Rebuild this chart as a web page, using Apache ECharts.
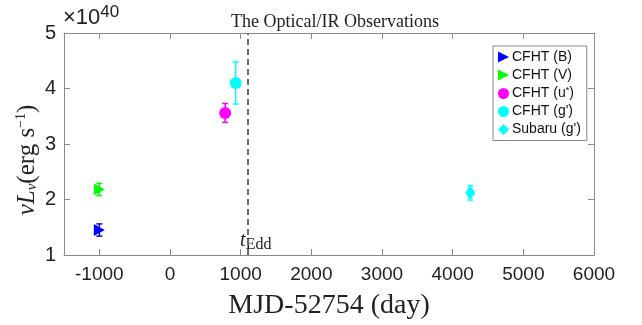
<!DOCTYPE html>
<html>
<head>
<meta charset="utf-8">
<script src="https://cdn.jsdelivr.net/npm/echarts@6/dist/echarts.min.js"></script>
<style>
  html, body { margin: 0; padding: 0; background: #fff; }
  #chart { width: 642px; height: 325px; }
</style>
</head>
<body>
<div id="chart"></div>
<script>
// values in units of 1e40 erg/s, x in MJD-52754
const seriesNames = ["CFHT (B)", "CFHT (V)", "CFHT (u*)", "CFHT (g')", "Subaru (g')"];
const seriesColors = ["#0000ff", "#00ff00", "#ff00ff", "#00ffff", "#00ffff"];
const xDays = [-1000, -1000, 780, 930, 4250];
const yLum = [1.45, 2.18, 3.56, 4.10, 2.12];
const yErr = [0.11, 0.11, 0.17, 0.38, 0.13];
const tEdd = 1105;
const xTicks = [-1000, 0, 1000, 2000, 3000, 4000, 5000, 6000];
const yTicks = [1, 2, 3, 4, 5];

const triRight = "path://M0,0 L10,5 L0,10 Z";
const symbols = [triRight, triRight, "circle", "circle", "diamond"];
const symbolSizes = [[11, 12], [11, 12], 12, 12, [10, 15]];

const chart = echarts.init(document.getElementById("chart"), null, { renderer: "canvas" });

const axisGray = "#8a8a8a";
const sans = "Liberation Sans, Arial, sans-serif";
const serif = "Liberation Serif, DejaVu Serif, serif";

const scatterSeries = seriesNames.map((name, i) => ({
  name,
  type: "scatter",
  data: [[xDays[i], yLum[i]]],
  symbol: symbols[i],
  symbolSize: symbolSizes[i],
  itemStyle: { color: seriesColors[i], opacity: 1 },
  z: 5,
}));

const errorSeries = seriesNames.map((name, i) => ({
  type: "custom",
  data: [[xDays[i], yLum[i] - yErr[i], yLum[i] + yErr[i]]],
  renderItem(params, api) {
    const lo = api.coord([api.value(0), api.value(1)]);
    const hi = api.coord([api.value(0), api.value(2)]);
    const cap = 3;
    const style = { stroke: seriesColors[i], lineWidth: 1.5 };
    return {
      type: "group",
      children: [
        { type: "line", shape: { x1: lo[0], y1: lo[1], x2: hi[0], y2: hi[1] }, style },
        { type: "line", shape: { x1: lo[0] - cap, y1: lo[1], x2: lo[0] + cap, y2: lo[1] }, style },
        { type: "line", shape: { x1: hi[0] - cap, y1: hi[1], x2: hi[0] + cap, y2: hi[1] }, style },
      ],
    };
  },
  z: 4,
}));

const tickAxisX = {
  type: "value",
  min: -1500,
  max: 6000,
  interval: 500,
  axisLine: { show: true, onZero: false, lineStyle: { color: axisGray, width: 1 } },
  axisTick: { show: true, inside: true, length: 6, lineStyle: { color: axisGray },
    customValues: xTicks },
  splitLine: { show: false },
};

const tickAxisY = {
  type: "value",
  min: 1,
  max: 5,
  interval: 1,
  axisLine: { show: true, onZero: false, lineStyle: { color: axisGray, width: 1 } },
  axisTick: { show: true, inside: true, length: 6, lineStyle: { color: axisGray } },
  splitLine: { show: false },
};

chart.setOption({
  backgroundColor: "#fff",
  animation: false,
  grid: { left: 64, right: 48, top: 33, bottom: 63 },
  title: {
    text: "The Optical/IR Observations",
    left: 330,
    textAlign: "center",
    top: 8,
    textStyle: { fontFamily: serif, fontSize: 18, fontWeight: "normal", color: "#222" },
  },
  xAxis: [
    {
      ...tickAxisX,
      position: "bottom",
      name: "MJD-52754 (day)",
      nameLocation: "middle",
      nameGap: 37,
      nameTextStyle: { fontFamily: serif, fontSize: 28, color: "#222" },
      axisLabel: { fontFamily: sans, fontSize: 19, color: "#222", margin: 10,
        customValues: xTicks, formatter: (v) => String(v) },
    },
    { ...tickAxisX, position: "top", axisLabel: { show: false } },
  ],
  yAxis: [
    {
      ...tickAxisY,
      position: "left",
      axisLabel: { fontFamily: sans, fontSize: 20, color: "#222", margin: 8,
        customValues: yTicks },
    },
    { ...tickAxisY, position: "right", axisLabel: { show: false } },
  ],
  legend: {
    data: seriesNames,
    orient: "vertical",
    left: 493,
    top: 46,
    width: 86,
    padding: [4, 6, 4, 5],
    itemGap: 4,
    itemWidth: 11,
    itemHeight: 11,
    backgroundColor: "#fff",
    borderColor: "#888",
    borderWidth: 1,
    borderRadius: 0,
    textStyle: {
      fontFamily: sans, fontSize: 14, color: "#111", padding: [0, 0, 0, -2],
      rich: { sup: { fontFamily: sans, fontSize: 9, color: "#111", verticalAlign: "top", padding: [0, 0, 6, 0] } },
    },
    formatter: (name) => name === "CFHT (u*)" ? "CFHT (u{sup|*})" : name,
  },
  graphic: [
    {
      type: "text",
      left: 63,
      top: 4,
      style: {
        text: "×10{sup|40}",
        fontFamily: sans,
        fontSize: 22,
        fill: "#222",
        rich: { sup: { fontFamily: sans, fontSize: 17, fill: "#222", verticalAlign: "top", padding: [0, 0, 10, 0] } },
      },
    },
    {
      type: "text",
      x: 27,
      y: 160,
      rotation: Math.PI / 2,
      style: {
        text: "{i|ν}{i|L}{s|ν}(erg s{sp|−1})",
        align: "center",
        verticalAlign: "middle",
        fontFamily: serif,
        fontSize: 25,
        fill: "#222",
        rich: {
          i: { fontFamily: serif, fontStyle: "italic", fontSize: 25, fill: "#222" },
          s: { fontFamily: serif, fontStyle: "italic", fontSize: 15, fill: "#222", padding: [10, 0, 0, 0] },
          sp: { fontFamily: serif, fontSize: 14, fill: "#222", padding: [0, 0, 12, 0] },
        },
      },
    },
  ],
  series: [
    ...errorSeries,
    ...scatterSeries,
    {
      type: "line",
      data: [],
      markLine: {
        silent: true,
        symbol: "none",
        lineStyle: { color: "#6a6a6a", type: [6, 4], width: 2 },
        label: { show: false },
        data: [{ xAxis: tEdd }],
      },
    },
  ],
});

// t_Edd label beside the dashed line near the bottom
const p = chart.convertToPixel({ xAxisIndex: 0, yAxisIndex: 0 }, [tEdd, 1]);
chart.setOption({
  graphic: [
    {},
    {},
    {
      type: "text",
      x: p[0] - 8,
      y: p[1] - 2,
      style: {
        text: "{t|t}{e|Edd}",
        verticalAlign: "bottom",
        fontFamily: serif,
        fill: "#222",
        rich: {
          t: { fontFamily: serif, fontStyle: "italic", fontSize: 20, fill: "#222" },
          e: { fontFamily: serif, fontSize: 16, fill: "#222", padding: [8, 0, 0, 0] },
        },
      },
    },
  ],
});
</script>
</body>
</html>
